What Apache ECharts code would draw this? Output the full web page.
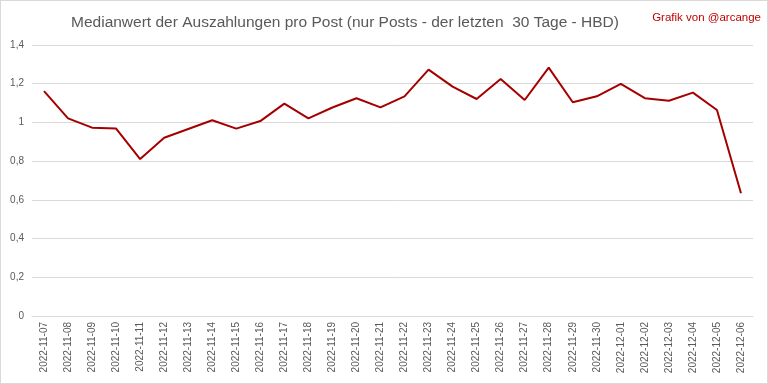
<!DOCTYPE html>
<html><head><meta charset="utf-8">
<script src="https://cdn.jsdelivr.net/npm/echarts@6/dist/echarts.min.js"></script>
<style>html,body{margin:0;padding:0;background:#fff}#c{width:766px;height:382px;border:1px solid #d9d9d9}</style>
</head><body><div id="c"></div>
<script>
const categories = ['2022-11-07','2022-11-08','2022-11-09','2022-11-10','2022-11-11','2022-11-12','2022-11-13','2022-11-14','2022-11-15','2022-11-16','2022-11-17','2022-11-18','2022-11-19','2022-11-20','2022-11-21','2022-11-22','2022-11-23','2022-11-24','2022-11-25','2022-11-26','2022-11-27','2022-11-28','2022-11-29','2022-11-30','2022-12-01','2022-12-02','2022-12-03','2022-12-04','2022-12-05','2022-12-06'];
const values = [1.162,1.021,0.973,0.968,0.811,0.921,0.966,1.011,0.968,1.007,1.097,1.021,1.077,1.125,1.078,1.135,1.273,1.185,1.121,1.224,1.116,1.283,1.104,1.135,1.199,1.125,1.112,1.154,1.064,0.634];
const titleText = 'Medianwert der Auszahlungen pro Post (nur Posts - der letzten  30 Tage - HBD)';
const creditText = 'Grafik von @arcange';
const chart = echarts.init(document.getElementById('c'));
chart.setOption({
  animation:false,
  title:[{text:titleText,left:339,top:9,textAlign:'center',textStyle:{fontFamily:'Liberation Sans',fontSize:15.5,fontWeight:'normal',color:'#595959'}},
         {text:creditText,right:1,top:6,textStyle:{fontFamily:'Liberation Sans',fontSize:11.5,fontWeight:'normal',color:'#c00000'}}],
  grid:{left:31,right:14,top:44,bottom:67},
  xAxis:{type:'category',data:categories,boundaryGap:true,
    axisLine:{lineStyle:{color:'#d9d9d9'}},axisTick:{show:false},
    axisLabel:{rotate:90,interval:0,fontSize:10,color:'#595959',fontFamily:'Liberation Sans',margin:6}},
  yAxis:{type:'value',min:0,max:1.4,interval:0.2,
    splitLine:{lineStyle:{color:'#d9d9d9'}},axisLine:{show:false},axisTick:{show:false},
    axisLabel:{fontSize:10,color:'#595959',fontFamily:'Liberation Sans',margin:8,formatter:v=>String(Math.round(v*10)/10).replace('.',',')}},
  series:[{type:'line',data:values,symbol:'none',lineStyle:{color:'#a50000',width:2}}]
});
</script></body></html>
